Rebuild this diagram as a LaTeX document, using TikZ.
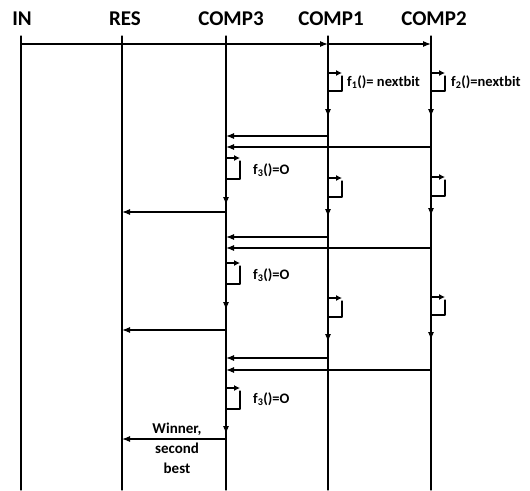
\documentclass[tikz,border=0pt]{standalone}
\usepackage{fontspec}
\setmainfont{Carlito}
\usetikzlibrary{arrows.meta}

\begin{document}
\begin{tikzpicture}[x=1pt,y=-1pt,line cap=round,line join=round,
  lifeline/.style={line width=1.1pt},
  msg/.style={line width=1.1pt,-{Latex[length=8pt,width=6pt]}},
  looptip/.style={line width=1.1pt,-{Latex[length=6pt,width=6pt]}},
  head/.style={font=\bfseries\fontsize{21}{22}\selectfont,anchor=base,inner sep=0pt},
  lbl/.style={font=\bfseries\fontsize{14.5}{16}\selectfont,anchor=west,inner sep=0pt}]
  \useasboundingbox (0,0) rectangle (530,490);
  % heads of the lifelines
  \node[head] (inlbl) at (22,25) {IN};
  \node[head] (reslbl) at (125,25) {RES};
  \node[head] (cthreelbl) at (231,25) {COMP3};
  \node[head] (conelbl) at (331,25) {COMP1};
  \node[head] (ctwolbl) at (434,25) {COMP2};
  % lifelines
  \foreach \name/\xx in {in/21, res/122, cthree/226, cone/328, ctwo/431}{
    \coordinate (\name) at (\xx,36);
    \coordinate (\name end) at (\xx,490);
    \draw[lifeline] (\name) -- (\name end);
  }
  % messages
  \foreach \from/\to/\yy in {in/cone/44, cone/ctwo/44,
      cone/cthree/136, ctwo/cthree/147, cthree/res/212,
      cone/cthree/237, ctwo/cthree/248, cthree/res/330,
      cone/cthree/358, ctwo/cthree/370, cthree/res/439}
    \draw[msg] (\from |- 0,\yy) -- (\to |- 0,\yy);
  % self calls
  \foreach \who/\yy/\hh in {cone/73/18, ctwo/73/18, cthree/158/21,
      cone/178/19, ctwo/177/19, cthree/263/21,
      cone/298/19, ctwo/297/18, cthree/388/21}{
    \draw[looptip] (\who |- 0,\yy) -- ++(14,0);
    \draw[lifeline] (\who |- 0,\yy) ++(14,3) -- ++(0,\hh-3) -- ++(-14,0);
  }
  % arrow heads on the lifelines
  \foreach \who/\yy in {cone/117, ctwo/117, cthree/205, cone/217, ctwo/216,
      cthree/310, cone/342, ctwo/340, cthree/434}
    \draw[msg] (\who |- 0,\yy-8) -- (\who |- 0,\yy);
  % labels
  \node[lbl] (fone) at (347,82) {f\textsubscript{1}()= nextbit};
  \node[lbl] (ftwo) at (451,82) {f\textsubscript{2}()=nextbit};
  \node[lbl] (fthreea) at (253,170) {f\textsubscript{3}()=O};
  \node[lbl] (fthreeb) at (253,275) {f\textsubscript{3}()=O};
  \node[lbl] (fthreec) at (253,399) {f\textsubscript{3}()=O};
  \node[font=\bfseries\fontsize{15}{20}\selectfont,align=center,inner sep=0pt]
    (winner) at (177,448) {Winner,\\second\\best};
\end{tikzpicture}
\end{document}
